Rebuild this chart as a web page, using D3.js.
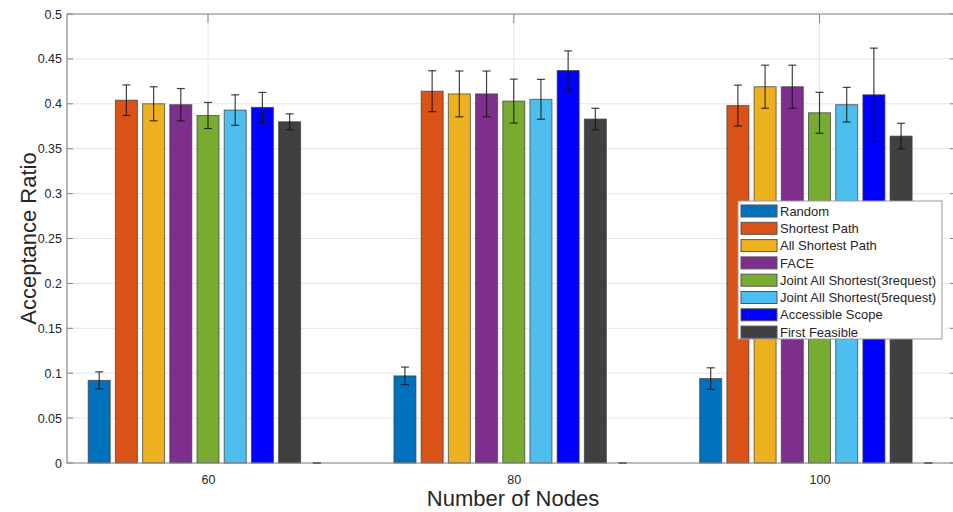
<!DOCTYPE html>
<html>
<head>
<meta charset="utf-8">
<script src="https://cdn.jsdelivr.net/npm/d3@7"></script>
<style>
  html, body { margin: 0; padding: 0; background: #fff; }
  svg { display: block; font-family: "Liberation Sans", Arial, Helvetica, sans-serif; }
</style>
</head>
<body>
<svg id="chart" width="953" height="512"></svg>
<script>
// Group labels on the x axis (number of nodes)
const categories = ["60", "80", "100"];

// Series names, in drawing order; the last one is an empty placeholder series
const seriesNames = [
  "Random",
  "Shortest Path",
  "All Shortest Path",
  "FACE",
  "Joint All Shortest(3request)",
  "Joint All Shortest(5request)",
  "Accessible Scope",
  "First Feasible",
  ""
];

const seriesColors = [
  "#0072BD", "#D95319", "#EDB120", "#7E2F8E",
  "#77AC30", "#4DBEEE", "#0000FF", "#404040", "#404040"
];

// Mean acceptance ratio per series (rows) and node count (columns)
const randomVals     = [0.092, 0.097, 0.094];
const shortestVals   = [0.404, 0.414, 0.398];
const allShortVals   = [0.400, 0.411, 0.419];
const faceVals       = [0.399, 0.411, 0.419];
const joint3Vals     = [0.387, 0.403, 0.390];
const joint5Vals     = [0.393, 0.405, 0.399];
const accessVals     = [0.396, 0.437, 0.410];
const firstFeasVals  = [0.380, 0.383, 0.364];
const emptyVals      = [0, 0, 0];

// Half-width of the error bars
const randomErr    = [0.0095, 0.0098, 0.012];
const shortestErr  = [0.017, 0.0228, 0.0228];
const allShortErr  = [0.019, 0.0255, 0.024];
const faceErr      = [0.018, 0.0255, 0.024];
const joint3Err    = [0.0145, 0.0245, 0.0228];
const joint5Err    = [0.017, 0.0222, 0.0193];
const accessErr    = [0.0167, 0.0219, 0.052];
const firstFeasErr = [0.0088, 0.012, 0.0143];
const emptyErr     = [0, 0, 0];

const yTicks = [0, 0.05, 0.1, 0.15, 0.2, 0.25, 0.3, 0.35, 0.4, 0.45, 0.5];

const seriesValues = [randomVals, shortestVals, allShortVals, faceVals,
  joint3Vals, joint5Vals, accessVals, firstFeasVals, emptyVals];
const seriesErrors = [randomErr, shortestErr, allShortErr, faceErr,
  joint3Err, joint5Err, accessErr, firstFeasErr, emptyErr];

const svg = d3.select("#chart");

// Plot frame
const pLeft = 67, pTop = 14, pBottom = 463, pRight = 956;

const y = d3.scaleLinear().domain([0, 0.5]).range([pBottom, pTop]);
// group centres
const x = d3.scaleLinear().domain([0, 2]).range([208, 819.5]);
// offset of each series inside a group (centre series sits on the tick)
const off = d3.scaleLinear().domain([0, 8]).range([-108.8, 108.8]);
const barW = 22;

const gridColor = "#e6e6e6";
const axisColor = "#858585";
const textColor = "#262626";

// Grid
const grid = svg.append("g");
grid.selectAll("line.h").data(yTicks).join("line")
  .attr("x1", pLeft).attr("x2", pRight)
  .attr("y1", d => y(d)).attr("y2", d => y(d))
  .attr("stroke", gridColor).attr("stroke-width", 1);
grid.selectAll("line.v").data(categories).join("line")
  .attr("x1", (d, i) => x(i)).attr("x2", (d, i) => x(i))
  .attr("y1", pTop).attr("y2", pBottom)
  .attr("stroke", gridColor).attr("stroke-width", 1);

// Bars
const flat = [];
seriesValues.forEach((vals, s) => vals.forEach((v, g) => {
  flat.push({ s, g, v, e: seriesErrors[s][g] });
}));

svg.append("g").selectAll("rect").data(flat.filter(d => d.v > 0)).join("rect")
  .attr("x", d => x(d.g) + off(d.s) - barW / 2)
  .attr("y", d => y(d.v))
  .attr("width", barW)
  .attr("height", d => y(0) - y(d.v))
  .attr("fill", d => seriesColors[d.s])
  .attr("stroke", "#3a3a3a")
  .attr("stroke-opacity", 0.7)
  .attr("stroke-width", 1);

// Error bars
const eb = svg.append("g").attr("stroke", "#111").attr("stroke-opacity", 0.8).attr("stroke-width", 1.2);
const capW = 4;
flat.forEach(d => {
  const cx = x(d.g) + off(d.s);
  eb.append("line").attr("x1", cx).attr("x2", cx).attr("y1", y(d.v + d.e)).attr("y2", y(d.v - d.e));
  eb.append("line").attr("x1", cx - capW).attr("x2", cx + capW).attr("y1", y(d.v + d.e)).attr("y2", y(d.v + d.e));
  eb.append("line").attr("x1", cx - capW).attr("x2", cx + capW).attr("y1", y(d.v - d.e)).attr("y2", y(d.v - d.e));
});

// Axes box
const yAxisL = d3.axisLeft(y).tickValues(yTicks).tickSize(0).tickPadding(5)
  .tickFormat(d => d3.format("")(+d.toFixed(2)));
const gy = svg.append("g").attr("transform", `translate(${pLeft},0)`).call(yAxisL);
gy.select(".domain").remove();
gy.selectAll("text").attr("fill", textColor).style("font-size", "12.5px");

const ticks = svg.append("g").attr("stroke", axisColor).attr("stroke-width", 1);
// y tick marks (inside, both sides)
yTicks.forEach(t => {
  ticks.append("line").attr("x1", pLeft).attr("x2", pLeft + 6).attr("y1", y(t)).attr("y2", y(t));
  ticks.append("line").attr("x1", pRight - 6).attr("x2", pRight).attr("y1", y(t)).attr("y2", y(t));
});
// x tick marks (inside, top and bottom)
categories.forEach((c, i) => {
  ticks.append("line").attr("x1", x(i)).attr("x2", x(i)).attr("y1", pBottom).attr("y2", pBottom - 9);
  ticks.append("line").attr("x1", x(i)).attr("x2", x(i)).attr("y1", pTop).attr("y2", pTop + 9);
});

const xAxisB = d3.axisBottom(x).tickValues([0, 1, 2]).tickSize(0).tickPadding(12)
  .tickFormat(i => categories[i]);
const gx = svg.append("g").attr("transform", `translate(0,${pBottom})`).call(xAxisB);
gx.select(".domain").remove();
gx.selectAll("text").attr("fill", textColor).style("font-size", "12.5px");

// Frame lines
const frame = svg.append("g").attr("stroke", axisColor).attr("stroke-width", 1.2).attr("fill", "none");
frame.append("line").attr("x1", pLeft).attr("x2", pRight).attr("y1", pBottom).attr("y2", pBottom);
frame.append("line").attr("x1", pLeft).attr("x2", pRight).attr("y1", pTop).attr("y2", pTop);
frame.append("line").attr("x1", pLeft).attr("x2", pLeft).attr("y1", pTop).attr("y2", pBottom);
frame.append("line").attr("x1", pRight).attr("x2", pRight).attr("y1", pTop).attr("y2", pBottom);

// Axis titles
svg.append("text")
  .attr("x", 513).attr("y", 506)
  .attr("text-anchor", "middle")
  .attr("fill", textColor)
  .style("font-size", "22px")
  .text("Number of Nodes");

svg.append("text")
  .attr("transform", `translate(36,${(pTop + pBottom) / 2}) rotate(-90)`)
  .attr("text-anchor", "middle")
  .attr("fill", textColor)
  .style("font-size", "22px")
  .text("Acceptance Ratio");

// Legend
const legendItems = seriesNames.slice(0, 8);
const lg = svg.append("g").attr("transform", "translate(738,201)");
lg.append("rect").attr("width", 204).attr("height", 138)
  .attr("fill", "#fff").attr("stroke", "#9a9a9a").attr("stroke-width", 1);
const rowH = 17.3;
const rows = lg.selectAll("g.row").data(legendItems).join("g")
  .attr("transform", (d, i) => `translate(0,${10 + i * rowH})`);
rows.append("rect").attr("x", 3).attr("y", -6).attr("width", 36).attr("height", 12)
  .attr("fill", (d, i) => seriesColors[i]).attr("stroke", "#555").attr("stroke-width", 1);
rows.append("text").attr("x", 42).attr("y", 0).attr("dy", "0.36em")
  .attr("fill", textColor).style("font-size", "13px")
  .text(d => d);
</script>
</body>
</html>
